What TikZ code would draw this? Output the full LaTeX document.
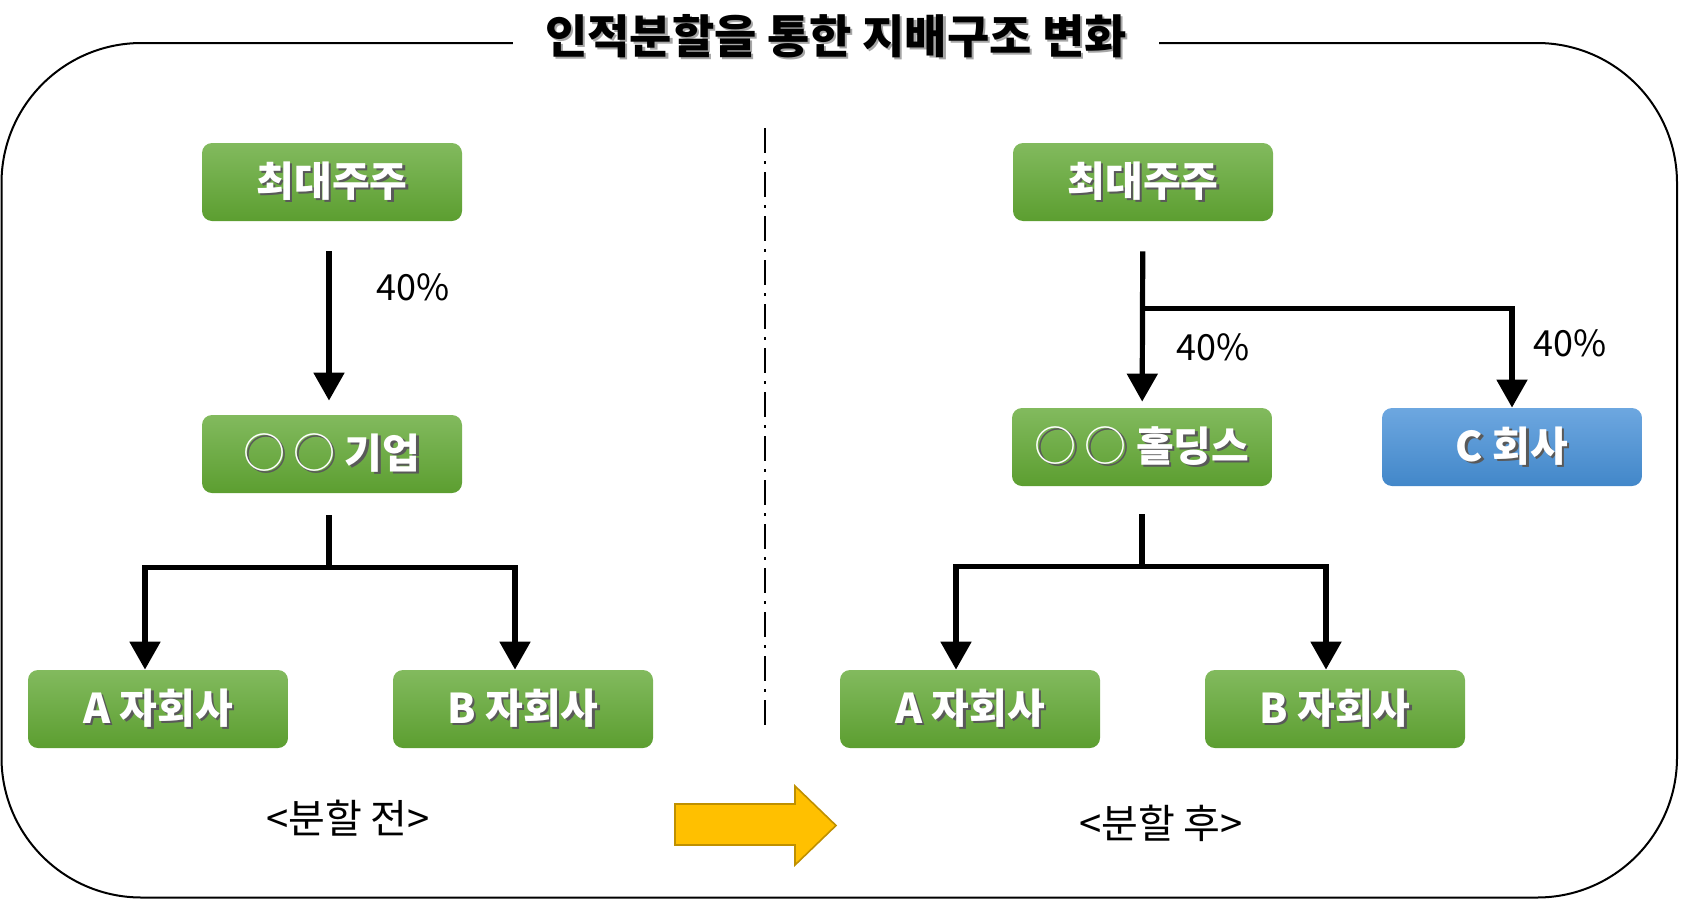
\documentclass[tikz,border=0pt]{standalone}
\usepackage{fontspec}
\setmainfont{Noto Sans CJK KR}
\usetikzlibrary{arrows.meta}
\definecolor{boxgreentop}{HTML}{82BA5E}
\definecolor{boxgreenbot}{HTML}{5C9E30}
\definecolor{boxbluetop}{HTML}{6DA7E0}
\definecolor{boxbluebot}{HTML}{4287C9}
\definecolor{arrowyellow}{HTML}{FFC000}
\definecolor{arrowedge}{HTML}{BF9000}
\newcommand{\shtext}[2][black!65]{\rlap{\hspace{1.2pt}\raisebox{-1.2pt}{\color{#1}#2}}#2}
\newcommand{\circmark}{{\mdseries\fontsize{21pt}{24pt}\selectfont ○}}
\tikzset{
  gbox/.style={rounded corners=5pt, minimum width=130pt, minimum height=39pt, inner sep=0pt,
    top color=boxgreentop, bottom color=boxgreenbot, text=white,
    font=\fontsize{20.5pt}{24pt}\selectfont\bfseries},
  bbox/.style={gbox, top color=boxbluetop, bottom color=boxbluebot},
  line/.style={line width=2.6pt},
  arr/.style={line, -{Triangle[length=14pt,width=15pt]}},
  pct/.style={font=\fontsize{18pt}{22pt}\selectfont},
  caption/.style={font=\fontsize{20pt}{24pt}\selectfont},
}
\begin{document}
\begin{tikzpicture}[x=0.5pt,y=-0.5pt]
\useasboundingbox (0,0) rectangle (1681,900);
% frame and title
\draw[line width=1pt, rounded corners=70pt] (1.5,43) rectangle (1677,897.5);
\node[fill=white, inner xsep=16pt, font=\fontsize{23pt}{26pt}\selectfont\bfseries] (title) at (836,37) {\shtext[black!35]{인적분할을 통한 지배구조 변화}};
\draw[line width=1pt, dash pattern=on 12.5pt off 4pt on 1.5pt off 4pt] (765,128) -- (765,729);
% before split
\node[gbox] (maxL) at (332,182) {\shtext{최대주주}};
\node[gbox] (giup) at (332,454) {\shtext{\circmark\hspace{4pt}\circmark\ 기업}};
\node[gbox] (subLA) at (158,709) {\shtext{A 자회사}};
\node[gbox] (subLB) at (523,709) {\shtext{B 자회사}};
\node[pct] (pctL) at (413,287) {40\%};
\draw[arr, shorten <=15pt, shorten >=7pt] ([xshift=-1.5pt]maxL.south) -- ([xshift=-1.5pt]giup.north);
\draw[line] ([xshift=-1.5pt,yshift=-11pt]giup.south) -- ++(0,-26pt) coordinate (lbar);
\draw[arr] (lbar) -| ([xshift=-6.5pt]subLA.north);
\draw[arr] (lbar) -| ([xshift=-4pt]subLB.north);
\node[caption] (capL) at (348,818) {<분할 전>};
% arrow
\draw[fill=arrowyellow, draw=arrowedge, line width=0.8pt] (675,804) -- (795,804) -- (795,786) -- (836,825.5) -- (795,865) -- (795,845) -- (675,845) -- cycle;
% after split
\node[gbox] (maxR) at (1143,182) {\shtext{최대주주}};
\node[gbox] (hold) at (1142,447) {\shtext{\circmark\hspace{4pt}\circmark\ 홀딩스}};
\node[bbox] (firmC) at (1512,447) {\shtext{C 회사}};
\node[gbox] (subRA) at (970,709) {\shtext{A 자회사}};
\node[gbox] (subRB) at (1335,709) {\shtext{B 자회사}};
\node[pct] (pctR) at (1213,347) {40\%};
\node[pct] (pctC) at (1570,343) {40\%};
\draw[arr, shorten <=15pt, shorten >=3pt] (maxR) -- (hold);
\coordinate (rbr) at ([yshift=-43.5pt]maxR.south);
\draw[arr] (rbr) -| (firmC.north);
\draw[line] ([yshift=-14pt]hold.south) -- ++(0,-26pt) coordinate (rbar);
\draw[arr] (rbar) -| ([xshift=-7pt]subRA.north);
\draw[arr] (rbar) -| ([xshift=-4.5pt]subRB.north);
\node[caption] (capR) at (1161,823) {<분할 후>};
\end{tikzpicture}
\end{document}
